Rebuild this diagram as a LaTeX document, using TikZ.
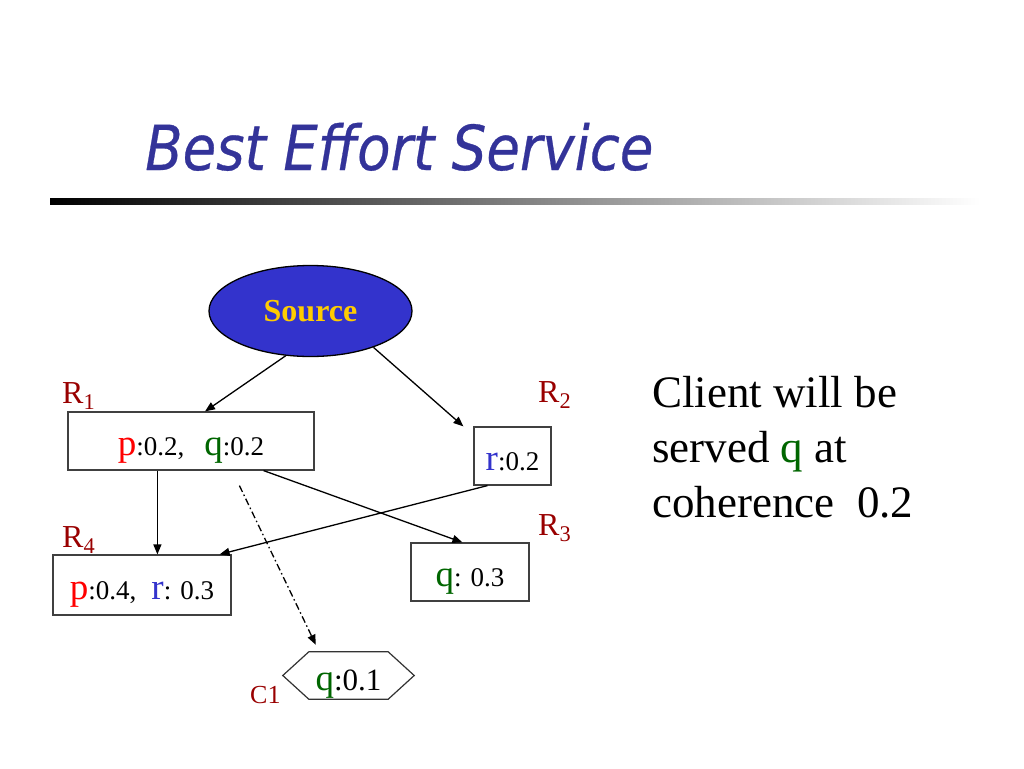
\documentclass[tikz,border=0pt]{standalone}
\usepackage{graphicx}
\usepackage{fontspec}
\setmainfont{Liberation Serif}
\newfontfamily\titlefont[FakeBold=0.5]{DejaVu Sans}
\usetikzlibrary{arrows.meta,calc,shapes.geometric}
\definecolor{titleblue}{RGB}{51,51,153}
\definecolor{srcblue}{RGB}{51,51,204}
\definecolor{srcgold}{RGB}{255,204,0}
\definecolor{pred}{RGB}{255,0,0}
\definecolor{qgreen}{RGB}{0,102,0}
\definecolor{rblue}{RGB}{51,51,204}
\definecolor{labred}{RGB}{153,0,0}
\newcommand{\Lg}[2]{{\fontsize{37}{40}\selectfont\color{#1}#2}}
\newcommand{\Sm}{\fontsize{27}{30}\selectfont}
\begin{document}
\begin{tikzpicture}[x=1pt,y=-1pt,
  rbox/.style={draw=black!75, line width=1.2pt, inner sep=0pt, text height=29pt, text depth=0pt, font=\Sm},
  rlabel/.style={anchor=base west, inner sep=0pt, text=labred, font=\fontsize{32}{34}\selectfont},
  arr/.style={-{Triangle[length=10pt,width=8pt]}, line width=1.3pt, black},
  txt/.style={anchor=base west, inner sep=0pt, font=\fontsize{45}{54}\selectfont}
  ]
\fill[white] (0,0) rectangle (1024,768);
\useasboundingbox (0,0) rectangle (1024,768);
% title
\node[anchor=base west, inner sep=0pt, text=titleblue, font=\titlefont\itshape\fontsize{62}{70}\selectfont] (title) at (145,170) {\scalebox{0.88}[1]{Best Effort Service}};
\shade[left color=black, right color=white] (50,198) rectangle (980,204);
% source
\node[ellipse, draw=black, line width=1.3pt, fill=srcblue, minimum width=203pt, minimum height=91pt, inner sep=0pt, text=srcgold, font=\bfseries\fontsize{32}{36}\selectfont] (S) at (310.5,311) {Source};
% boxes
\node[rbox, minimum width=246pt, minimum height=58pt] (R1) at (191,441) {\Lg{pred}{p}:0.2,\hspace{20pt}\Lg{qgreen}{q}:0.2};
\node[rbox, minimum width=77pt, minimum height=58pt] (R2) at (512.5,456) {\Lg{rblue}{r}:0.2};
\node[rbox, minimum width=118pt, minimum height=58pt] (R3) at (470,572) {\Lg{qgreen}{q}: 0.3};
\node[rbox, minimum width=178pt, minimum height=60pt] (R4) at (142,585) {\Lg{pred}{p}:0.4,\hspace{15pt}\Lg{rblue}{r}: 0.3};
\node[minimum width=131pt, minimum height=47pt, inner sep=0pt, text height=29pt, text depth=0pt] (C1) at (348.5,675.5) {\Lg{qgreen}{q}{\fontsize{31}{34}\selectfont:0.1}};
\draw[black!80, line width=1.2pt] (C1.west) -- ($(C1.north west)+(26,0)$) -- ($(C1.north east)+(-26,0)$) -- (C1.east) -- ($(C1.south east)+(-26,0)$) -- ($(C1.south west)+(26,0)$) -- cycle;
% labels
\node[rlabel] (L1) at (62,403) {R\textsubscript{1}};
\node[rlabel] (L2) at (538,402) {R\textsubscript{2}};
\node[rlabel] (L3) at (538,535) {R\textsubscript{3}};
\node[rlabel] (L4) at (62,547) {R\textsubscript{4}};
\node[anchor=base west, inner sep=0pt, text=labred, font=\fontsize{26}{30}\selectfont] (LC) at (250,703) {C1};
% connectors
\draw[arr] (S.241) -- ($(R1.north)+(14,0)$);
\draw[arr] (S.330) -- ($(R2.north west)+(-10,0)$);
\draw[arr] ($(R1.south west)+(90,0)$) -- ($(R4.north west)+(105,0)$);
\draw[arr] ($(R1.south east)+(-51,0)$) -- ($(R3.north west)+(52,0)$);
\draw[arr] ($(R2.south west)+(14,0)$) -- ($(R4.north east)+(-12,0)$);
\draw[arr, dash pattern=on 7pt off 3pt on 1.5pt off 3pt] ($(R1.south west)+(172,15)$) -- ($(C1.north west)+(33,-7)$);
% right text
\node[txt] (t1) at (652,407) {Client will be};
\node[txt] (t2) at (652,462) {served \textcolor{qgreen}{q} at};
\node[txt] (t3) at (652,517) {coherence\ \ 0.2};
\end{tikzpicture}
\end{document}
